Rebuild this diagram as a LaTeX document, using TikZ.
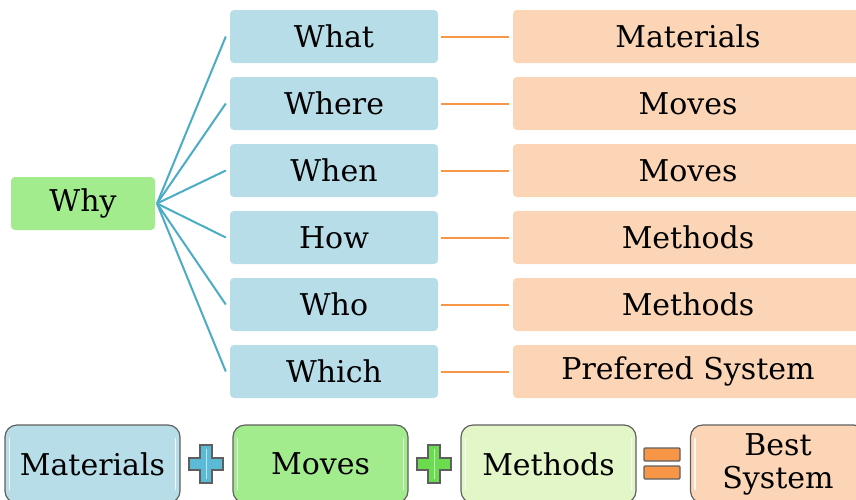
\documentclass[tikz,border=0pt]{standalone}
\usepackage{fontspec}
\usetikzlibrary{calc}
\setmainfont{DejaVu Serif}
\definecolor{qblue}{HTML}{B7DDE8}
\definecolor{qorange}{HTML}{FBD5B5}
\definecolor{qgreen}{HTML}{A3EC8E}
\definecolor{qlime}{HTML}{E3F6C8}
\definecolor{tealline}{HTML}{4BACC6}
\definecolor{orangeline}{HTML}{F79646}
\definecolor{rimgray}{HTML}{5F5F5F}
\definecolor{plusblue}{HTML}{5BBAD6}
\definecolor{plusgreen}{HTML}{6BDB4F}
\definecolor{eqorange}{HTML}{F79646}
\begin{document}
\begin{tikzpicture}[x=1pt,y=-1pt,
  qbox/.style={rectangle, rounded corners=4pt, fill=qblue, minimum width=208pt, minimum height=53pt, inner sep=0pt, font=\fontsize{30}{33}\selectfont},
  abox/.style={rectangle, rounded corners=4pt, fill=qorange, minimum width=360pt, minimum height=53pt, inner sep=0pt, font=\fontsize{30}{33}\selectfont},
  whybox/.style={rectangle, rounded corners=4pt, fill=qgreen, minimum width=144pt, minimum height=53pt, inner sep=0pt, font=\fontsize{30}{33}\selectfont},
  fan/.style={draw=tealline, line width=2pt},
  link/.style={draw=orangeline, line width=2pt},
  sumbox/.style={rectangle, rounded corners=12pt, draw=rimgray, line width=1.2pt, minimum width=175pt, minimum height=78pt, inner sep=0pt, font=\fontsize{30}{33}\selectfont, align=center},
  gloss/.style={draw=white, line width=1.6pt, opacity=0.8, line cap=round},
  opsign/.style={draw=rimgray, line width=1.2pt}
]
\useasboundingbox (0,0) rectangle (856,499);

% root question
\node[whybox] (why) at (83,203.5) {Why};

% question column
\node[qbox] (q1) at (334,36.5)  {What};
\node[qbox] (q2) at (334,103.5) {Where};
\node[qbox] (q3) at (334,170.5) {When};
\node[qbox] (q4) at (334,237.5) {How};
\node[qbox] (q5) at (334,304.5) {Who};
\node[qbox] (q6) at (334,371.5) {Which};

% answer column
\node[abox] (a1) at (693,36.5)  {\hspace*{-10pt}Materials};
\node[abox] (a2) at (693,103.5) {\hspace*{-10pt}Moves};
\node[abox] (a3) at (693,170.5) {\hspace*{-10pt}Moves};
\node[abox] (a4) at (693,237.5) {\hspace*{-10pt}Methods};
\node[abox] (a5) at (693,304.5) {\hspace*{-10pt}Methods};
\node[abox] (a6) at (693,371.5) {\hspace*{-10pt}Prefered System};

% fan from the root to each question, links to each answer
\coordinate (hub) at (157,203.5);
\foreach \i in {1,...,6} {
  \draw[fan] (hub) -- ([xshift=-4pt]q\i.west);
  \draw[link] ([xshift=3pt]q\i.east) -- ([xshift=-4pt]a\i.west);
}

% bottom equation
\node[sumbox, fill=qblue]   (m1) at (92.5,464)  {Materials};
\node[sumbox, fill=qgreen]  (m2) at (320.5,464) {Moves};
\node[sumbox, fill=qlime]   (m3) at (548.5,464) {Methods};
\node[sumbox, fill=qorange] (m4) at (778,464) {Best\\System};

\foreach \b in {m1,m2,m3,m4} {
  \draw[gloss] ([xshift=5pt,yshift=-14pt]\b.north west) -- ([xshift=5pt,yshift=14pt]\b.south west);
  \draw[gloss] ([xshift=-5pt,yshift=-14pt]\b.north east) -- ([xshift=-5pt,yshift=14pt]\b.south east);
}

% plus and equals signs
\coordinate (p1) at (206,464);
\coordinate (p2) at (434,464);
\filldraw[opsign, fill=plusblue]
  ($(p1)+(-6,-19)$) -- ++(12,0) -- ++(0,13) -- ++(11,0) -- ++(0,12) -- ++(-11,0) -- ++(0,13) -- ++(-12,0) -- ++(0,-13) -- ++(-11,0) -- ++(0,-12) -- ++(11,0) -- cycle;
\draw[white, opacity=0.6, line width=1pt] ($(p1)+(0,-15)$) -- ($(p1)+(0,15)$);
\filldraw[opsign, fill=plusgreen]
  ($(p2)+(-6,-19)$) -- ++(12,0) -- ++(0,13) -- ++(11,0) -- ++(0,12) -- ++(-11,0) -- ++(0,13) -- ++(-12,0) -- ++(0,-13) -- ++(-11,0) -- ++(0,-12) -- ++(11,0) -- cycle;
\draw[white, opacity=0.6, line width=1pt] ($(p2)+(0,-15)$) -- ($(p2)+(0,15)$);
\filldraw[opsign, fill=eqorange, rounded corners=1pt] (644,448) rectangle (680,461);
\filldraw[opsign, fill=eqorange, rounded corners=1pt] (644,466) rectangle (680,479);
\end{tikzpicture}
\end{document}
